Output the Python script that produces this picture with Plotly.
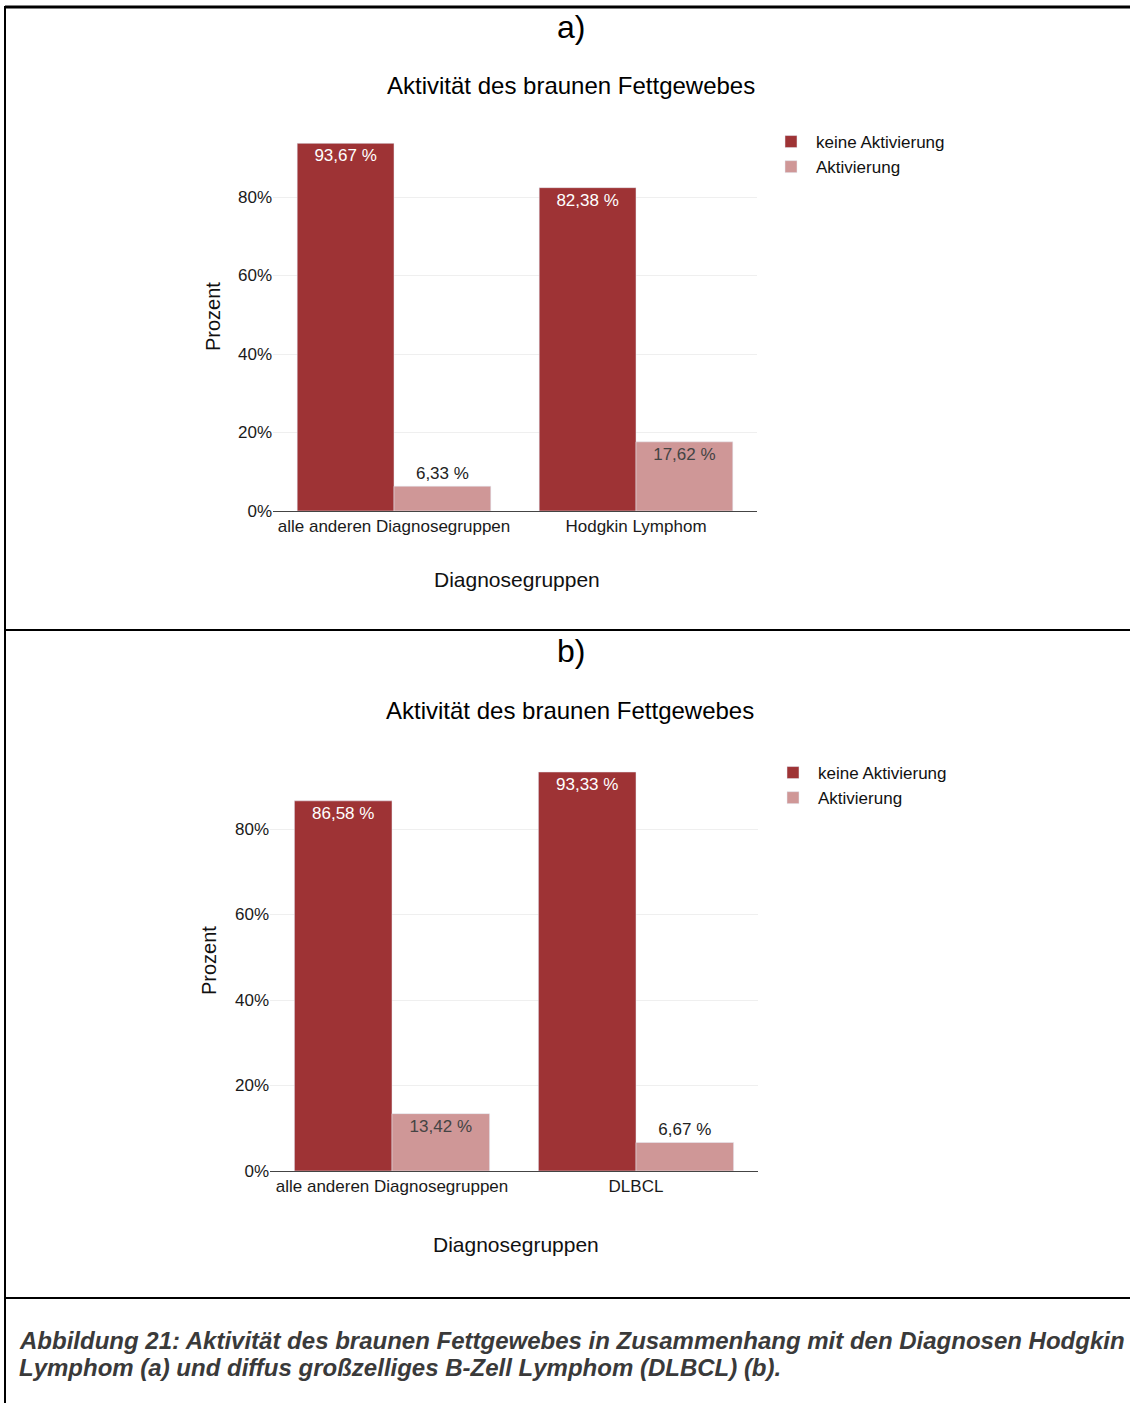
import plotly.graph_objects as go

# ---- data -------------------------------------------------------------
series_names = ["keine Aktivierung", "Aktivierung"]
categories_a = ["alle anderen Diagnosegruppen", "Hodgkin Lymphom"]
keine_a = [93.67, 82.38]
aktiv_a = [6.33, 17.62]

categories_b = ["alle anderen Diagnosegruppen", "DLBCL"]
keine_b = [86.58, 93.33]
aktiv_b = [13.42, 6.67]

y_tickvals = [0, 20, 40, 60, 80]
y_ticktext = ["0%", "20%", "40%", "60%", "80%"]

chart_title = "Aktivität des braunen Fettgewebes"
x_title = "Diagnosegruppen"
y_title = "Prozent"
caption_lines = [
    "Abbildung 21: Aktivität des braunen Fettgewebes in Zusammenhang mit den Diagnosen Hodgkin",
    "Lymphom (a) und diffus großzelliges B-Zell Lymphom (DLBCL) (b).",
]

# ---- styling ----------------------------------------------------------
W, H = 1130, 1413          # figure size in CSS px
GRID_H = 1403              # vertical layout grid used for placing elements
FONT = "Liberation Sans, Arial, sans-serif"
DARK = "#9e3335"
LIGHT = "#cf9797"


def px(x):
    return x / W


def py(y):
    return 1 - y / GRID_H


def fmt(v):
    return f"{v:.2f}".replace(".", ",") + " %"


fig = go.Figure()


def add_panel(cats, dark_vals, light_vals, xa, ya, legend):
    fig.add_trace(go.Bar(
        x=cats, y=dark_vals, name=series_names[0], marker_color=DARK,
        text=[fmt(v) for v in dark_vals], textposition="inside",
        insidetextanchor="end", textfont=dict(color="white", size=17, family=FONT),
        xaxis=xa, yaxis=ya, legend=legend, cliponaxis=False, hoverinfo="skip"))
    fig.add_trace(go.Bar(
        x=cats, y=light_vals, name=series_names[1], marker_color=LIGHT,
        text=[fmt(v) for v in light_vals],
        textposition=["inside" if v > 10 else "outside" for v in light_vals],
        insidetextanchor="end",
        insidetextfont=dict(color="#444444", size=17, family=FONT),
        outsidetextfont=dict(color="#222222", size=17, family=FONT),
        xaxis=xa, yaxis=ya, legend=legend, cliponaxis=False, hoverinfo="skip"))


add_panel(categories_a, keine_a, aktiv_a, "x", "y", "legend")
add_panel(categories_b, keine_b, aktiv_b, "x2", "y2", "legend2")

xaxis_common = dict(showgrid=False, showline=True, linecolor="#444444", linewidth=1,
                    ticks="", tickfont=dict(size=17, color="#1a1a1a", family=FONT),
                    range=[-0.5, 1.5], fixedrange=True)
yaxis_common = dict(range=[0, 100], tickvals=y_tickvals, ticktext=y_ticktext,
                    showgrid=True, gridcolor="#efefef", gridwidth=1,
                    zeroline=False, showline=False, ticks="", ticklabelstandoff=0,
                    tickfont=dict(size=17, color="#1a1a1a", family=FONT), fixedrange=True)

# extents of the two plot areas (grid px)
A_L, A_R, A_B, A_PCT = 273, 757, 511, 3.925
B_L, B_R, B_B, B_PCT = 270, 758, 1171, 4.275

legend_style = dict(xanchor="left", yanchor="top", itemwidth=40,
                    font=dict(size=17, family=FONT, color="#111111"),
                    bgcolor="rgba(0,0,0,0)")

fig.update_layout(
    width=W, height=H,
    margin=dict(l=0, r=0, t=0, b=0),
    paper_bgcolor="white", plot_bgcolor="white",
    font=dict(family=FONT, color="#111111"),
    barmode="group", bargap=0.2, bargroupgap=0,
    xaxis=dict(domain=[px(A_L), px(A_R)], anchor="y", **xaxis_common),
    yaxis=dict(domain=[py(A_B), py(A_B - 100 * A_PCT)], anchor="x", **yaxis_common),
    xaxis2=dict(domain=[px(B_L), px(B_R)], anchor="y2", **xaxis_common),
    yaxis2=dict(domain=[py(B_B), py(B_B - 100 * B_PCT)], anchor="x2", **yaxis_common),
    legend=dict(x=px(766), y=py(124), **legend_style),
    legend2=dict(x=px(768), y=py(755), **legend_style),
    showlegend=True,
)

# frame lines around the two panels and the caption
line = dict(color="black", width=2)
fig.add_shape(type="line", xref="paper", yref="paper", x0=px(5), x1=1, y0=py(7), y1=py(7),
              line=dict(color="black", width=3))
fig.add_shape(type="line", xref="paper", yref="paper", x0=px(5), x1=px(5), y0=py(6), y1=0, line=line)
fig.add_shape(type="line", xref="paper", yref="paper", x0=px(5), x1=1, y0=py(630), y1=py(630), line=line)
fig.add_shape(type="line", xref="paper", yref="paper", x0=px(5), x1=1, y0=py(1298), y1=py(1298), line=line)

ann = []


def text(x, y, s, size, **kw):
    ann.append(dict(x=px(x), y=py(y), xref="paper", yref="paper", text=s, showarrow=False,
                    font=dict(size=size, family=FONT, color=kw.pop("color", "#111111")), **kw))


# panel a
text(571, 27, "a)", 32, xanchor="center", yanchor="middle", color="#000000")
text(571, 85, chart_title, 24, xanchor="center", yanchor="middle", color="#000000")
text(517, 579, x_title, 21, xanchor="center", yanchor="middle")
text(213, 317, y_title, 20, xanchor="center", yanchor="middle", textangle=-90)
# panel b
text(571, 651, "b)", 32, xanchor="center", yanchor="middle", color="#000000")
text(570, 710, chart_title, 24, xanchor="center", yanchor="middle", color="#000000")
text(516, 1244, x_title, 21, xanchor="center", yanchor="middle")
text(209, 961, y_title, 20, xanchor="center", yanchor="middle", textangle=-90)
# caption
for i, cap in enumerate(caption_lines):
    text(17, 1340 + 27 * i, "<b><i>" + cap + "</i></b>", 24, xanchor="left", yanchor="middle",
         align="left", color="#3a3a3a")

fig.update_layout(annotations=ann)

fig.write_html("out.html")
